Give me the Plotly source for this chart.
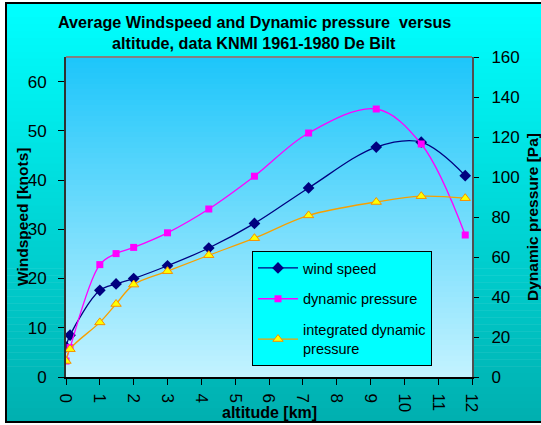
import plotly.graph_objects as go

# ---------------- data ----------------
altitude_km = [0.0, 0.12, 1.0, 1.48, 2.0, 3.0, 4.22, 5.57, 7.17, 9.17, 10.5, 11.8]
wind_speed_knots = [6.1, 8.5, 17.6, 18.9, 20.0, 22.6, 26.2, 31.2, 38.4, 46.7, 47.7, 40.9]
dynamic_pressure_pa = [8.0, 14.7, 56.2, 61.7, 64.8, 72.1, 84.0, 100.4, 122.0, 134.0, 116.5, 71.0]
integrated_pressure_pa = [8.0, 13.9, 27.3, 36.5, 46.2, 52.9, 60.9, 69.4, 80.8, 87.5, 90.4, 89.4]

series_names = ["wind speed", "dynamic pressure", "integrated dynamic<br>pressure"]
x_ticks = list(range(0, 13))
y_left_ticks = list(range(0, 70, 10))
y_right_ticks = list(range(0, 180, 20))

# ---------------- layout geometry ----------------
W, H = 541, 425
ML, MR, MT, MB = 66, 69, 57, 48
PW, PH = W - ML - MR, H - MT - MB
FONT = "Liberation Sans, Arial, sans-serif"


def px(xp):
    return (xp - ML) / PW


def py(yp):
    return (H - MB - yp) / PH


def lerp(c1, c2, t):
    return "rgb(%d,%d,%d)" % tuple(round(a + (b - a) * t) for a, b in zip(c1, c2))


shapes = []
# chart-area gradient (cyan -> teal)
N = 60
top, bot = 3, 422
for i in range(N):
    y0 = top + (bot - top) * i / N
    y1 = top + (bot - top) * (i + 1) / N + 0.5
    shapes.append(dict(type="rect", xref="paper", yref="paper", layer="below",
                       x0=px(6), x1=px(560), y0=py(y0), y1=py(y1),
                       fillcolor=lerp((0, 255, 255), (0, 176, 176), i / (N - 1)),
                       line=dict(width=0)))
# plot-area gradient (blue -> pale)
for i in range(N):
    shapes.append(dict(type="rect", xref="paper", yref="paper", layer="below",
                       x0=0, x1=1, y0=1 - i / N, y1=1 - (i + 1) / N - 0.003,
                       fillcolor=lerp((30, 198, 250), (194, 242, 255), i / (N - 1)),
                       line=dict(width=0)))
# plot-area top border
shapes.append(dict(type="line", xref="paper", yref="paper", x0=0, x1=1, y0=1, y1=1,
                   line=dict(color="#808080", width=2)))
# chart border
shapes.append(dict(type="rect", xref="paper", yref="paper", layer="above",
                   x0=px(6), x1=px(560), y0=py(3), y1=py(422),
                   line=dict(color="#000000", width=2)))

fig = go.Figure()
fig.add_trace(go.Scatter(
    x=altitude_km, y=wind_speed_knots, name=series_names[0], mode="lines+markers",
    line=dict(color="#000080", width=1.3, shape="spline", smoothing=1),
    marker=dict(symbol="diamond", size=9, color="#000080"),
    legendgroup="a", yaxis="y"))
fig.add_trace(go.Scatter(
    x=altitude_km, y=dynamic_pressure_pa, name=series_names[1], mode="lines+markers",
    line=dict(color="#FF00FF", width=1.3, shape="spline", smoothing=1),
    marker=dict(symbol="square", size=7, color="#FF00FF"),
    legendgroup="b", yaxis="y2"))
fig.add_trace(go.Scatter(
    x=altitude_km, y=integrated_pressure_pa, name=series_names[2], mode="lines+markers",
    line=dict(color="#F7A000", width=1.3, shape="spline", smoothing=1),
    marker=dict(symbol="triangle-up", size=9, color="#FFFF00",
                line=dict(color="#F79000", width=1)),
    legendgroup="c", yaxis="y2"))

annotations = [
    dict(text="<b>Average Windspeed and Dynamic pressure  versus</b>", x=px(254), y=py(22),
         xref="paper", yref="paper", showarrow=False, xanchor="center", yanchor="middle",
         font=dict(family=FONT, size=16.2, color="black")),
    dict(text="<b>altitude, data KNMI 1961-1980 De Bilt</b>", x=px(254), y=py(43),
         xref="paper", yref="paper", showarrow=False, xanchor="center", yanchor="middle",
         font=dict(family=FONT, size=16.2, color="black")),
    dict(text="<b>altitude [km]</b>", x=px(269), y=py(412),
         xref="paper", yref="paper", showarrow=False, xanchor="center", yanchor="middle",
         font=dict(family=FONT, size=16, color="black")),
    dict(text="<b>Windspeed [knots]</b>", x=px(22), y=0.5, textangle=-90,
         xref="paper", yref="paper", showarrow=False, xanchor="center", yanchor="middle",
         font=dict(family=FONT, size=15.5, color="black")),
    dict(text="<b>Dynamic pressure [Pa]</b>", x=px(532), y=0.5, textangle=-90,
         xref="paper", yref="paper", showarrow=False, xanchor="center", yanchor="middle",
         font=dict(family=FONT, size=15.5, color="black")),
]

fig.update_layout(
    width=W, height=H, autosize=False,
    margin=dict(l=ML, r=MR, t=MT, b=MB, pad=0),
    paper_bgcolor="#FFFFFF", plot_bgcolor="rgba(0,0,0,0)",
    font=dict(family=FONT, size=17, color="black"),
    shapes=shapes, annotations=annotations,
    xaxis=dict(range=[0, 12], tickvals=x_ticks, tickangle=90, ticks="outside",
               ticklen=6, tickwidth=1, tickcolor="#000000", showline=True,
               linecolor="#000000", linewidth=2, showgrid=False, zeroline=False,
               ticklabelstandoff=5, tickfont=dict(size=17)),
    yaxis=dict(range=[0, 65], tickvals=y_left_ticks, ticks="outside", ticklen=6,
               tickwidth=1, tickcolor="#000000", showline=True, linecolor="#303030",
               linewidth=2, showgrid=False, zeroline=False, ticklabelstandoff=8,
               tickfont=dict(size=17)),
    yaxis2=dict(range=[0, 160], tickvals=y_right_ticks, overlaying="y", side="right",
                ticks="outside", ticklen=5, tickwidth=1, tickcolor="#000000",
                showline=True, linecolor="#505050", linewidth=2, showgrid=False,
                zeroline=False, ticklabelstandoff=9, tickfont=dict(size=17)),
    legend=dict(x=px(252), y=py(251), xanchor="left", yanchor="top",
                bgcolor="#00FFFF", bordercolor="#000000", borderwidth=1,
                font=dict(family=FONT, size=14.5, color="black"),
                tracegroupgap=9, itemwidth=40, traceorder="grouped"),
    showlegend=True,
)

fig.write_html("out.html", config={"displayModeBar": False},
               post_script="document.body.style.margin='0px';document.body.style.overflow='hidden';")
